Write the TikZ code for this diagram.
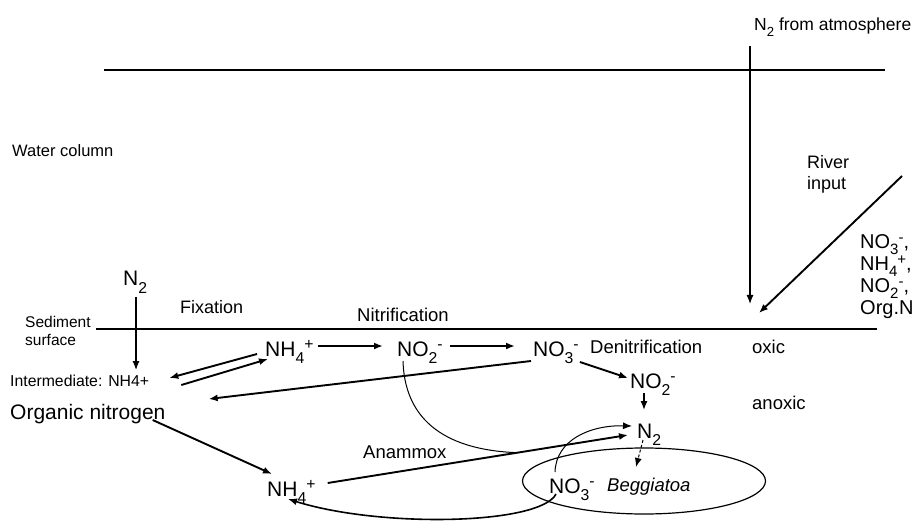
\documentclass[tikz,border=0pt]{standalone}
\usepackage{fontspec}
\setmainfont{Liberation Sans}
\usepackage{graphicx}
\usetikzlibrary{arrows.meta,calc,shapes.geometric}
\newcommand\fsz[2]{\fontsize{#1}{#2}\selectfont}
\newcommand\chsub[1]{\raisebox{-0.34em}{\scalebox{0.75}{#1}}}
\newcommand\chsup[1]{\raisebox{0.33em}{\scalebox{0.75}{#1}}}
\newcommand\lsub[1]{\raisebox{-0.28em}{\scalebox{0.75}{#1}}}
\begin{document}
\begin{tikzpicture}[x=1pt,y=-1pt,
  lab/.style={inner sep=0pt,anchor=base west,font=\fsz{18.5}{21}},
  small/.style={inner sep=0pt,anchor=base west,font=\fsz{15.5}{18}},
  chem/.style={inner sep=0pt,anchor=base west,font=\fsz{21}{24},text height=16pt,text depth=5pt},
  listitem/.style={chem,font=\fsz{20}{22},text height=14pt,text depth=5pt},
  arr/.style={-{Latex[length=9pt,width=7pt]}},
  thickarr/.style={arr,line width=1.9pt},
  thinline/.style={line width=1pt},
  level/.style={line width=1.4pt}]
\useasboundingbox (0,0) rectangle (918,521);

% boundary lines
\coordinate (topL) at (104,70);
\coordinate (topR) at (885,70);
\coordinate (sedL) at (96,329);
\coordinate (sedR) at (877,329);
\draw[level] (topL) -- (topR);
\draw[level] (sedL) -- (sedR);

% labels
\node[lab,font=\fsz{17.5}{20}] (atm) at (754,31) {N\chsub{2} from atmosphere};
\node[small,font=\fsz{16.5}{19}] (water) at (12,157) {Water column};
\node[lab,font=\fsz{18}{21}] (river1) at (807,169) {River};
\node[lab,font=\fsz{18}{21}] (river2) at (807,190) {input};
\node[listitem] (in1) at (860,249) {NO\lsub{3}\chsup{-},};
\node[listitem] (in2) at (860,271) {NH\lsub{4}\chsup{+},};
\node[listitem] (in3) at (860,293) {NO\lsub{2}\chsup{-},};
\node[listitem] (in4) at (860,315) {Org.N};
\node[small] (sed1) at (25,327) {Sediment};
\node[small] (sed2) at (25,345) {surface};
\node[lab,font=\fsz{18}{21}] (fix) at (180,313) {Fixation};
\node[lab] (nitr) at (357,321) {Nitrification};
\node[lab] (den) at (590,353) {Denitrification};
\node[lab] (oxic) at (752,353) {oxic};
\node[lab] (anoxic) at (752,409) {anoxic};
\node[small,font=\fsz{15.8}{18}] (inter) at (10,386) {Intermediate: NH4+};
\node[chem] (orgN) at (10,419) {Organic nitrogen};
\node[lab] (amxlab) at (363,458) {Anammox};
\node[lab,font=\fsz{18.5}{21}\itshape] (begg) at (607,491) {Beggiatoa};

% chemical species
\node[chem] (n2L) at (123,286) {N\chsub{2}};
\node[chem] (nh4t) at (265,356) {NH\chsub{4}\chsup{+}};
\node[chem] (no2t) at (397,356) {NO\chsub{2}\chsup{-}};
\node[chem] (no3t) at (533,356) {NO\chsub{3}\chsup{-}};
\node[chem] (no2r) at (630,388) {NO\chsub{2}\chsup{-}};
\node[chem] (n2r) at (637,438) {N\chsub{2}};
\node[chem] (nh4b) at (267,496) {NH\chsub{4}\chsup{+}};
\node[chem] (no3e) at (549,493) {NO\chsub{3}\chsup{-}};

% Beggiatoa cell
\node[draw,ellipse,line width=1.2pt,minimum width=243pt,minimum height=66pt,inner sep=0pt] (cell) at (644,481) {};

% inputs from above
\coordinate (atmsrc) at (750,46);
\coordinate (atmdst) at (750,304);
\draw[arr,line width=1.2pt] (atmsrc) -- (atmdst);
\coordinate (riversrc) at (902,176);
\coordinate (riverdst) at (759,313);
\draw[thickarr] (riversrc) -- (riverdst);

% fixation
\draw[arr,line width=1.2pt] ($(n2L.base west)+(13,11)$) -- ($(n2L.base west)+(13,84)$);
\draw[thickarr] ($(nh4t.base west)+(-8,-2)$) -- ($(inter.base east)+(20,-8)$);
\draw[thickarr] ($(inter.base east)+(32,-1)$) -- ($(nh4t.base west)+(3,3)$);

% nitrification
\draw[thickarr] ($(nh4t.base east)+(4,-10)$) -- ($(no2t.base west)+(-14,-10)$);
\draw[thickarr] ($(no2t.base east)+(7,-10)$) -- ($(no3t.base west)+(-18,-10)$);

% denitrification
\draw[thickarr] ($(no3t.base west)+(-2,5)$) -- ($(orgN.base east)+(43,-20)$);
\draw[thickarr] ($(no3t.base east)+(1,6)$) -- ($(no2r.base west)+(-2,-10)$);
\draw[arr,line width=1.4pt] ($(no2r.base west)+(14,5)$) -- ($(n2r.base west)+(7,-28)$);
\draw[arr,line width=1pt,dash pattern=on 3pt off 2pt] ($(n2r.base west)+(6,2)$) -- ($(begg.base west)+(29,-24)$);

% ammonification
\draw[thickarr] ($(orgN.base east)+(-13,1)$) -- ($(nh4b.base west)+(5,-22)$);

% anammox
\draw[thickarr] ($(nh4b.base east)+(12,-13)$) -- coordinate[pos=0.632] (amx) ($(n2r.base west)+(-9,-3)$);
\draw[thinline] ($(no2t.base west)+(6,5)$) .. controls +(2,69) and +(-58,-2) .. (amx);

% Beggiatoa nitrate
\draw[thinline,arr] ($(no3e.base west)+(6,-21)$) .. controls +(1,-32) and +(-42,-1) .. ($(n2r.base west)+(-5,-12)$);
\draw[arr,line width=1.6pt] ($(no3e.base west)+(7,1)$) .. controls +(-16,31) and +(92,29) .. ($(nh4b.base west)+(21,3)$);
\end{tikzpicture}
\end{document}
